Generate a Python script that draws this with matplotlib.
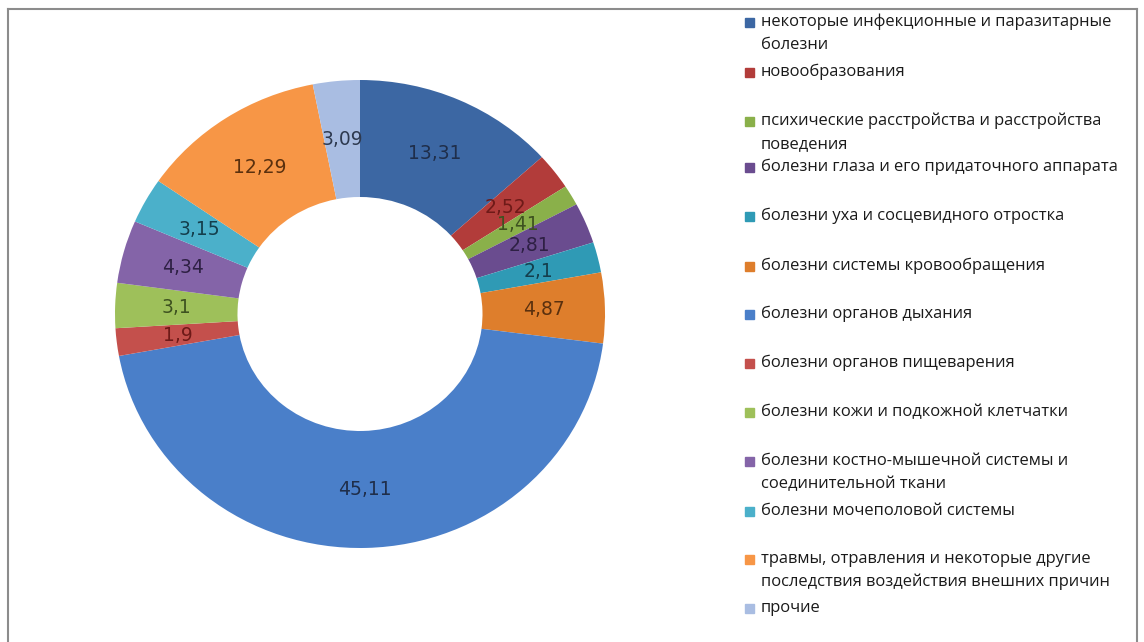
import matplotlib
matplotlib.use("Agg")
import matplotlib.pyplot as plt
from matplotlib.patches import Rectangle
import numpy as np

categories = [
    "некоторые инфекционные и паразитарные\nболезни",
    "новообразования",
    "психические расстройства и расстройства\nповедения",
    "болезни глаза и его придаточного аппарата",
    "болезни уха и сосцевидного отростка",
    "болезни системы кровообращения",
    "болезни органов дыхания",
    "болезни органов пищеварения",
    "болезни кожи и подкожной клетчатки",
    "болезни костно-мышечной системы и\nсоединительной ткани",
    "болезни мочеполовой системы",
    "травмы, отравления и некоторые другие\nпоследствия воздействия внешних причин",
    "прочие",
]
values = [13.31, 2.52, 1.41, 2.81, 2.1, 4.87, 45.11, 1.9, 3.1, 4.34, 3.15, 12.29, 3.09]
value_labels = ["13,31", "2,52", "1,41", "2,81", "2,1", "4,87", "45,11", "1,9", "3,1", "4,34", "3,15", "12,29", "3,09"]

colors = ["#3C67A3", "#B23C3A", "#8AB04A", "#6A4C8F", "#2F9AB5", "#DE7E2C",
          "#4A7FC9", "#C4504C", "#9EC05A", "#8464A8", "#4BB0CA", "#F79646", "#A9BDE2"]
label_colors = ["#1F2E4A", "#6E1A18", "#3E5220", "#2E2044", "#143E4C", "#5A300E",
                "#1F2E4A", "#6E1A18", "#3E5220", "#2E2044", "#143E4C", "#5A300E", "#2E3A50"]

W, H = 1144, 642
fig = plt.figure(figsize=(W / 100, H / 100), dpi=100)
fig.patch.set_facecolor("white")

# frame
for xs, ys in [([8, 8], [H, 9]), ([8, 1137], [9, 9]), ([1137, 1137], [9, H])]:
    fig.add_artist(plt.Line2D([x / W for x in xs], [1 - y / H for y in ys],
                              color="#8c8c8c", lw=1.5, transform=fig.transFigure))

# donut axes (slightly elliptical, as in reference)
cx, cy, rx, ry = 360, 314, 245, 234
ax = fig.add_axes([(cx - rx) / W, (H - cy - ry) / H, 2 * rx / W, 2 * ry / H])
wedges, _ = ax.pie(values, colors=colors, startangle=90, counterclock=False,
                   wedgeprops=dict(width=0.5, edgecolor="none"), radius=1.0)
ax.set_aspect("auto")
ax.set_xlim(-1, 1)
ax.set_ylim(-1, 1)
ax.axis("off")

for w, lab, lc in zip(wedges, value_labels, label_colors):
    ang = np.deg2rad((w.theta1 + w.theta2) / 2)
    r = 0.75
    ax.text(r * np.cos(ang), r * np.sin(ang), lab, ha="center", va="center",
            fontsize=13.5, color=lc, family="DejaVu Sans")

# legend
legend_y = [22, 72, 121, 167, 216, 266, 314, 363, 412, 461, 511, 559, 608]
for y, cat, col in zip(legend_y, categories, colors):
    fig.add_artist(Rectangle((745 / W, 1 - (y + 5) / H), 9 / W, 9 / H, color=col,
                             transform=fig.transFigure))
    for k, line in enumerate(cat.split("\n")):
        fig.text(761 / W, 1 - (y + 23 * k) / H, line, ha="left", va="center",
                 fontsize=11.9, family="Open Sans", color="#1a1a1a")

fig.savefig("out.png", dpi=100)
